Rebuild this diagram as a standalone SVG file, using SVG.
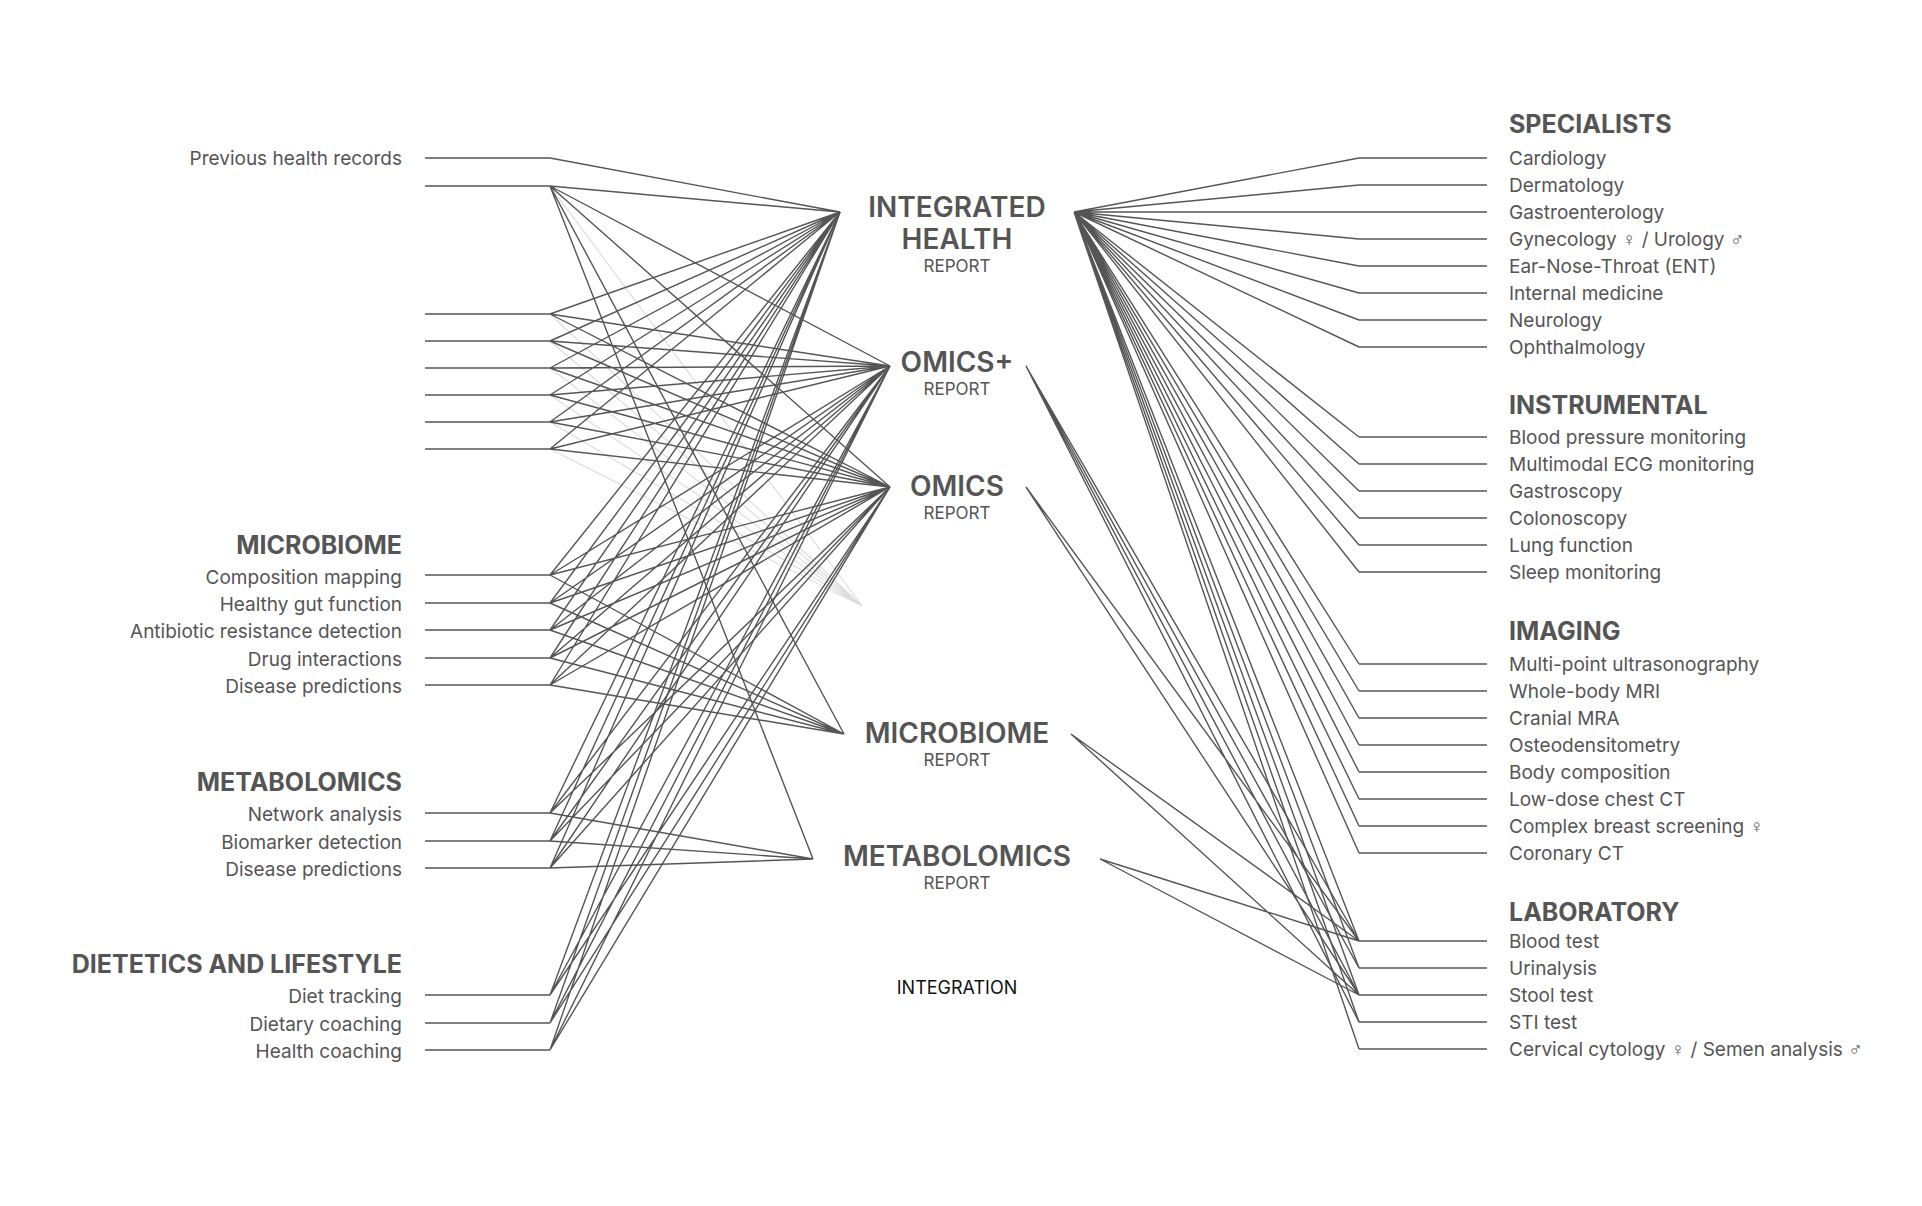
<svg xmlns="http://www.w3.org/2000/svg" width="1922" height="1206" viewBox="0 0 1922 1206">
<style>
text{font-family:Inter,"Noto Sans","Liberation Sans",sans-serif;fill:#555}
.it{font-size:19px}
.l{text-anchor:end}
.h{font-size:25px;font-weight:700}
.c{text-anchor:middle}
.hub{font-size:28px;font-weight:600}
.rp{font-size:17px}
.k path{fill:none;stroke:#555;stroke-width:1.4}
.k path.f{stroke:#ddd;stroke-width:1.2}
</style>
<rect width="1922" height="1206" fill="#fff"/>
<g id="connectors" class="k">
<path d="M425 158H550M425 186H550M425 314H550M425 341H550M425 368H550M425 395H550M425 422H550M425 449H550M425 575H550M425 603H550M425 630H550M425 658H550M425 685H550M425 813H550M425 841H550M425 868H550M425 995H550M425 1023H550M425 1050H550"/>
<path class="f" d="M550 186L862 606M550 314L862 606M550 341L862 606M550 368L862 606M550 395L862 606M550 422L862 606M550 449L862 606"/>
<path d="M550 158L840 212M550 186L840 212M550 186L890 366M550 186L890 487M550 186L844 734M550 186L813 859"/>
<path d="M550 314L840 212M550 314L890 366M550 314L890 487M550 341L840 212M550 341L890 366M550 341L890 487M550 368L840 212M550 368L890 366M550 368L890 487M550 395L840 212M550 395L890 366M550 395L890 487M550 422L840 212M550 422L890 366M550 422L890 487M550 449L840 212M550 449L890 366M550 449L890 487"/>
<path d="M550 575L840 212M550 575L890 366M550 575L890 487M550 575L844 734M550 603L840 212M550 603L890 366M550 603L890 487M550 603L844 734M550 630L840 212M550 630L890 366M550 630L890 487M550 630L844 734M550 658L840 212M550 658L890 366M550 658L890 487M550 658L844 734M550 685L840 212M550 685L890 366M550 685L890 487M550 685L844 734"/>
<path d="M550 813L840 212M550 813L890 366M550 813L890 487M550 813L813 859M550 841L840 212M550 841L890 366M550 841L890 487M550 841L813 859M550 868L840 212M550 868L890 366M550 868L890 487M550 868L813 859"/>
<path d="M550 995L840 212M550 995L890 366M550 995L890 487M550 1023L840 212M550 1023L890 366M550 1023L890 487M550 1050L840 212M550 1050L890 366M550 1050L890 487"/>
<path d="M1359 158H1487M1359 185H1487M1359 212H1487M1359 239H1487M1359 266H1487M1359 293H1487M1359 320H1487M1359 347H1487M1359 437H1487M1359 464H1487M1359 491H1487M1359 518H1487M1359 545H1487M1359 572H1487M1359 664H1487M1359 691H1487M1359 718H1487M1359 745H1487M1359 772H1487M1359 799H1487M1359 826H1487M1359 853H1487M1359 941H1487M1359 968H1487M1359 995H1487M1359 1022H1487M1359 1049H1487"/>
<path d="M1074 212L1359 158M1074 212L1359 185M1074 212L1359 212M1074 212L1359 239M1074 212L1359 266M1074 212L1359 293M1074 212L1359 320M1074 212L1359 347M1074 212L1359 437M1074 212L1359 464M1074 212L1359 491M1074 212L1359 518M1074 212L1359 545M1074 212L1359 572M1074 212L1359 664M1074 212L1359 691M1074 212L1359 718M1074 212L1359 745M1074 212L1359 772M1074 212L1359 799M1074 212L1359 826M1074 212L1359 853M1074 212L1359 941M1074 212L1359 968M1074 212L1359 995M1074 212L1359 1022M1074 212L1359 1049"/>
<path d="M1026 366L1359 941M1026 366L1359 968M1026 366L1359 995M1026 366L1359 1022M1026 487L1359 941M1026 487L1359 995M1071 734L1359 941M1071 734L1359 995M1100 859L1359 941M1100 859L1359 995"/>
</g>
<g id="left-records"><text class="it l" x="402" y="165">Previous health records</text></g>
<g id="left-microbiome">
<text class="h l" x="402" y="554">MICROBIOME</text>
<text class="it l" x="402" y="584">Composition mapping</text>
<text class="it l" x="402" y="611">Healthy gut function</text>
<text class="it l" x="402" y="638">Antibiotic resistance detection</text>
<text class="it l" x="402" y="666">Drug interactions</text>
<text class="it l" x="402" y="693">Disease predictions</text>
</g>
<g id="left-metabolomics">
<text class="h l" x="402" y="791">METABOLOMICS</text>
<text class="it l" x="402" y="821">Network analysis</text>
<text class="it l" x="402" y="849">Biomarker detection</text>
<text class="it l" x="402" y="876">Disease predictions</text>
</g>
<g id="left-dietetics">
<text class="h l" x="402" y="973">DIETETICS AND LIFESTYLE</text>
<text class="it l" x="402" y="1003">Diet tracking</text>
<text class="it l" x="402" y="1031">Dietary coaching</text>
<text class="it l" x="402" y="1058">Health coaching</text>
</g>
<g id="hub-integrated"><text class="hub c" x="957" y="217">INTEGRATED</text><text class="hub c" x="957" y="249">HEALTH</text><text class="rp c" x="957" y="272">REPORT</text></g>
<g id="hub-omicsplus"><text class="hub c" x="957" y="372">OMICS+</text><text class="rp c" x="957" y="395">REPORT</text></g>
<g id="hub-omics"><text class="hub c" x="957" y="496">OMICS</text><text class="rp c" x="957" y="519">REPORT</text></g>
<g id="hub-microbiome"><text class="hub c" x="957" y="743">MICROBIOME</text><text class="rp c" x="957" y="766">REPORT</text></g>
<g id="hub-metabolomics"><text class="hub c" x="957" y="866">METABOLOMICS</text><text class="rp c" x="957" y="889">REPORT</text></g>
<g id="integration"><text class="c" x="957" y="994" font-size="18" style="fill:#111">INTEGRATION</text></g>
<g id="right-specialists">
<text class="h" x="1509" y="133">SPECIALISTS</text>
<text class="it" x="1509" y="165">Cardiology</text>
<text class="it" x="1509" y="192">Dermatology</text>
<text class="it" x="1509" y="219">Gastroenterology</text>
<text class="it" x="1509" y="246">Gynecology ♀ / Urology ♂</text>
<text class="it" x="1509" y="273">Ear-Nose-Throat (ENT)</text>
<text class="it" x="1509" y="300">Internal medicine</text>
<text class="it" x="1509" y="327">Neurology</text>
<text class="it" x="1509" y="354">Ophthalmology</text>
</g>
<g id="right-instrumental">
<text class="h" x="1509" y="414">INSTRUMENTAL</text>
<text class="it" x="1509" y="444">Blood pressure monitoring</text>
<text class="it" x="1509" y="471">Multimodal ECG monitoring</text>
<text class="it" x="1509" y="498">Gastroscopy</text>
<text class="it" x="1509" y="525">Colonoscopy</text>
<text class="it" x="1509" y="552">Lung function</text>
<text class="it" x="1509" y="579">Sleep monitoring</text>
</g>
<g id="right-imaging">
<text class="h" x="1509" y="640">IMAGING</text>
<text class="it" x="1509" y="671">Multi-point ultrasonography</text>
<text class="it" x="1509" y="698">Whole-body MRI</text>
<text class="it" x="1509" y="725">Cranial MRA</text>
<text class="it" x="1509" y="752">Osteodensitometry</text>
<text class="it" x="1509" y="779">Body composition</text>
<text class="it" x="1509" y="806">Low-dose chest CT</text>
<text class="it" x="1509" y="833">Complex breast screening ♀</text>
<text class="it" x="1509" y="860">Coronary CT</text>
</g>
<g id="right-laboratory">
<text class="h" x="1509" y="921">LABORATORY</text>
<text class="it" x="1509" y="948">Blood test</text>
<text class="it" x="1509" y="975">Urinalysis</text>
<text class="it" x="1509" y="1002">Stool test</text>
<text class="it" x="1509" y="1029">STI test</text>
<text class="it" x="1509" y="1056">Cervical cytology ♀ / Semen analysis ♂</text>
</g>
</svg>
